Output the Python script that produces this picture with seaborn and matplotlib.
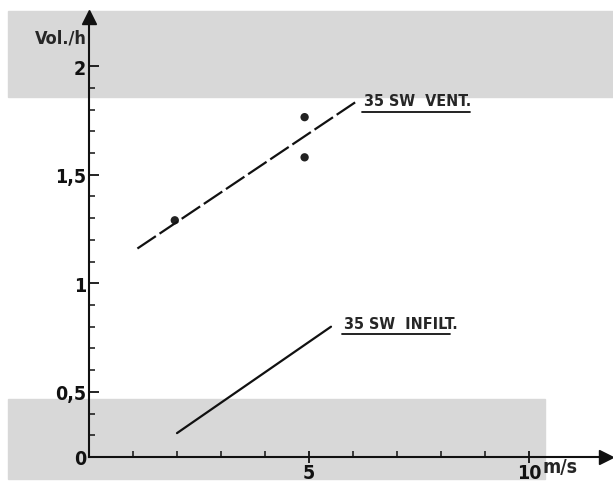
import matplotlib
matplotlib.use('Agg')
import matplotlib.pyplot as plt
import matplotlib.patches as mpatches
import seaborn as sns

# dados
vent_x = [1.1, 6.1]
vent_y = [1.16, 1.84]
vent_pts_x = [1.95, 4.9, 4.9]
vent_pts_y = [1.29, 1.765, 1.58]
infilt_x = [2.0, 5.5]
infilt_y = [0.31, 0.80]

xticks = [5, 10]
xtick_labels = ['5', '10']
# o eixo x fica em 0.2 no desenho original, mas o rotulo e "0"
yticks = [0.2, 0.5, 1.0, 1.5, 2.0]
ytick_labels = ['0', '0,5', '1', '1,5', '2']

sns.set_style('white')
plt.rcParams['font.family'] = ['DejaVu Sans']
plt.rcParams['font.stretch'] = 'condensed'
plt.rcParams['font.weight'] = 'bold'

W, H = 613, 489
fig = plt.figure(figsize=(W / 100, H / 100), dpi=100)

# faixas cinzas do papel escaneado
fig.patches.append(mpatches.Rectangle((8 / W, 1 - 98 / H), (W - 8) / W, 86 / H,
                                      transform=fig.transFigure, color='#d8d8d8', zorder=-5))
fig.patches.append(mpatches.Rectangle((8 / W, 1 - 480 / H), 537 / W, 80 / H,
                                      transform=fig.transFigure, color='#d8d8d8', zorder=-5))

ax = fig.add_axes([89 / W, 1 - 458 / H, (606 - 89) / W, (458 - 18) / H])
ax.patch.set_alpha(0)
ax.set_xlim(0, (606 - 89) / 44.0)
ax.set_ylim(0.2, 2 + (67 - 18) / 216.7)

sns.lineplot(x=vent_x, y=vent_y, ax=ax, color='#111111', linewidth=1.6,
             dashes=False, linestyle=(0, (10, 2)))
sns.scatterplot(x=vent_pts_x, y=vent_pts_y, ax=ax, color='#222222', s=36,
                edgecolor='none')
sns.lineplot(x=infilt_x, y=infilt_y, ax=ax, color='#111111', linewidth=1.6)

for s in ['top', 'right']:
    ax.spines[s].set_visible(False)
for s in ['left', 'bottom']:
    ax.spines[s].set_linewidth(1.5)
    ax.spines[s].set_color('#111111')

ax.set_xticks(xticks)
ax.set_xticklabels(xtick_labels, fontsize=14, fontweight='bold')
ax.set_xticks(range(1, 11), minor=True)
ax.set_yticks(yticks)
ax.set_yticklabels(ytick_labels, fontsize=14, fontweight='bold')
ax.set_yticks([0.3, 0.4, 0.6, 0.7, 0.8, 0.9, 1.1, 1.2, 1.3, 1.4,
               1.6, 1.7, 1.8, 1.9], minor=True)
ax.tick_params(axis='x', which='major', direction='inout', length=9, width=1.3,
               bottom=True, pad=0, colors='#111111')
ax.tick_params(axis='x', which='minor', direction='in', length=4, width=1.1,
               bottom=True, colors='#111111')
ax.tick_params(axis='y', which='major', direction='in', length=7, width=1.3,
               left=True, pad=2, colors='#111111')
ax.tick_params(axis='y', which='minor', direction='in', length=4, width=1.1,
               left=True, colors='#111111')

# setas dos eixos
ax.plot(1, 0, marker='>', markersize=10, color='#111111', transform=ax.transAxes,
        clip_on=False)
ax.plot(0, 1, marker='^', markersize=10, color='#111111', transform=ax.transAxes,
        clip_on=False)

ax.text(10.3, 0.2, 'm/s', fontsize=14, fontweight='bold', ha='left', va='top')
ax.text(-0.05, 2.13, 'Vol./h', fontsize=13, fontweight='bold', ha='right', va='center')

ax.text(6.25, 1.84, '35 SW  VENT.', fontsize=11.5, fontweight='bold', ha='left',
        va='center')
ax.plot([6.2, 8.65], [1.79, 1.79], color='#111111', linewidth=1.3)
ax.text(5.8, 0.815, '35 SW  INFILT.', fontsize=11.5, fontweight='bold', ha='left',
        va='center')
ax.plot([5.75, 8.2], [0.765, 0.765], color='#111111', linewidth=1.3)

fig.savefig('out.png', dpi=100)
